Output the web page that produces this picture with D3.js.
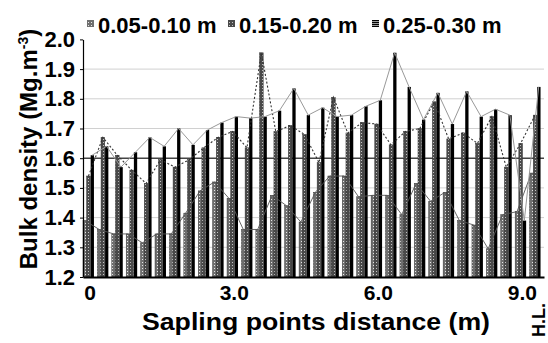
<!DOCTYPE html>
<html>
<head>
<meta charset="utf-8">
<script src="https://cdn.jsdelivr.net/npm/d3@7"></script>
<style>
  body { margin: 0; background: #fff; }
  svg { display: block; font-family: 'Liberation Sans', Arial, sans-serif; font-weight: bold; }
</style>
</head>
<body>
<script>
// sampling points (m) along the transect, last one is the hedge line
const distances = ['0', '0.3', '0.6', '0.9', '1.2', '1.5', '1.8', '2.1', '2.4', '2.7',
  '3.0', '3.3', '3.6', '3.9', '4.2', '4.5', '4.8', '5.1', '5.4', '5.7',
  '6.0', '6.3', '6.6', '6.9', '7.2', '7.5', '7.8', '8.1', '8.4', '8.7', '9.0', 'H.L.'];

const layers = ['0.05-0.10 m', '0.15-0.20 m', '0.25-0.30 m'];

// bulk density, Mg.m-3
const depth1 = [1.39, 1.36, 1.345, 1.345, 1.315, 1.345, 1.345, 1.415, 1.49, 1.52,
  1.465, 1.36, 1.36, 1.475, 1.44, 1.385, 1.485, 1.54, 1.54, 1.47,
  1.475, 1.475, 1.41, 1.515, 1.455, 1.485, 1.39, 1.375, 1.295, 1.41, 1.42, 1.55];
const depth2 = [1.54, 1.67, 1.61, 1.56, 1.515, 1.595, 1.57, 1.595, 1.635, 1.67,
  1.69, 1.635, 1.955, 1.69, 1.71, 1.68, 1.585, 1.805, 1.685, 1.72,
  1.715, 1.645, 1.69, 1.70, 1.79, 1.665, 1.685, 1.65, 1.74, 1.57, 1.65, 1.745];
const depth3 = [1.61, 1.64, 1.57, 1.62, 1.67, 1.64, 1.70, 1.645, 1.695, 1.72,
  1.74, 1.735, 1.74, 1.76, 1.835, 1.745, 1.77, 1.74, 1.745, 1.775,
  1.795, 1.955, 1.84, 1.73, 1.82, 1.715, 1.825, 1.74, 1.765, 1.745, 1.39, 1.84];

const yTicks = [1.2, 1.3, 1.4, 1.5, 1.6, 1.7, 1.8, 1.9, 2.0];
const xTicks = ['0', '3.0', '6.0', '9.0'];

const series = [depth1, depth2, depth3];

const width = 548, height = 343;
const plotL = 83, plotR = 544, plotT = 39.4, plotB = 277;

const svg = d3.select('body').append('svg')
  .attr('width', width)
  .attr('height', height);

// fill patterns for the bars
const defs = svg.append('defs');
function dots(id, bg, dot) {
  const p = defs.append('pattern')
    .attr('id', id)
    .attr('patternUnits', 'userSpaceOnUse')
    .attr('width', 3).attr('height', 3);
  p.append('rect').attr('width', 3).attr('height', 3).attr('fill', bg);
  p.append('rect').attr('x', 1).attr('y', 1).attr('width', 1).attr('height', 1).attr('fill', dot);
}
dots('pat1', '#6f6f6f', '#e6e6e6');
dots('pat2', '#4a4a4a', '#c4c4c4');
const stripes = defs.append('pattern')
  .attr('id', 'pat3')
  .attr('patternUnits', 'userSpaceOnUse')
  .attr('width', 4).attr('height', 2);
stripes.append('rect').attr('width', 4).attr('height', 2).attr('fill', '#000');
stripes.append('rect').attr('y', 1.4).attr('width', 4).attr('height', 0.6).attr('fill', '#fff');

const fills = ['url(#pat1)', 'url(#pat2)', '#000'];

const x0 = d3.scaleBand()
  .domain(distances)
  .range([plotL, plotR]);

const x1 = d3.scaleBand()
  .domain(layers)
  .range([0, x0.bandwidth() * 0.76]);

const y = d3.scaleLinear()
  .domain([1.2, 2.0])
  .range([plotB, plotT]);

// grid
svg.append('g')
  .selectAll('line')
  .data(yTicks.filter(function(d) { return d > 1.2 && d < 2.0; }))
  .join('line')
  .attr('x1', plotL).attr('x2', plotR)
  .attr('y1', function(d) { return y(d); })
  .attr('y2', function(d) { return y(d); })
  .attr('stroke', function(d) { return d === 1.6 ? '#444' : '#d0d0d0'; })
  .attr('stroke-width', function(d) { return d === 1.6 ? 1.4 : 1; });

// bars
const barW = function(k) { return k === 2 ? x1.bandwidth() * 0.9 : x1.bandwidth(); };
const barOff = function(k) { return k === 2 ? x1.bandwidth() * 0.1 : 0; };

series.forEach(function(vals, k) {
  svg.append('g')
    .selectAll('rect')
    .data(vals)
    .join('rect')
    .attr('x', function(d, i) { return x0(distances[i]) + x1(layers[k]) + barOff(k); })
    .attr('y', function(d) { return y(d); })
    .attr('width', barW(k))
    .attr('height', function(d) { return y(1.2) - y(d); })
    .attr('fill', fills[k])
    .attr('stroke', k === 2 ? 'none' : '#333')
    .attr('stroke-width', 0.5);
});

// lines joining the bar tops
const lineStyles = [
  {stroke: '#555', dash: null, w: 0.9},
  {stroke: '#333', dash: '2,2', w: 1.1},
  {stroke: '#999', dash: null, w: 1}
];
series.forEach(function(vals, k) {
  const line = d3.line()
    .x(function(d, i) { return x0(distances[i]) + x1(layers[k]) + x1.bandwidth() / 2; })
    .y(function(d) { return y(d); });
  svg.append('path')
    .datum(vals)
    .attr('d', line)
    .attr('fill', 'none')
    .attr('stroke', lineStyles[k].stroke)
    .attr('stroke-width', lineStyles[k].w)
    .attr('stroke-dasharray', lineStyles[k].dash);
});

// axes
const yAxis = d3.axisLeft(y)
  .tickValues(yTicks)
  .tickFormat(d3.format('.1f'))
  .tickSize(3)
  .tickSizeOuter(0)
  .tickPadding(5);

svg.append('g')
  .attr('transform', 'translate(' + plotL + ',0)')
  .call(yAxis)
  .call(function(g) {
    g.select('.domain').attr('stroke', '#000').attr('stroke-width', 1.2);
    g.selectAll('text').attr('font-size', 22).attr('font-family', null).attr('fill', '#000');
  });

const xAxis = d3.axisBottom(x0)
  .tickValues(xTicks)
  .tickSize(0)
  .tickPadding(8);

svg.append('g')
  .attr('transform', 'translate(0,' + plotB + ')')
  .call(xAxis)
  .call(function(g) {
    g.select('.domain').attr('stroke', '#000').attr('stroke-width', 2);
    g.selectAll('text').attr('font-size', 21).attr('font-family', null).attr('fill', '#000');
  });

// hedge line label, written vertically
const hl = distances[distances.length - 1];
svg.append('text')
  .attr('transform', 'translate(' + (x0(hl) + x0.bandwidth() / 2 + 8) + ',320) rotate(-90)')
  .attr('text-anchor', 'middle')
  .attr('font-size', 18)
  .text(hl);

// axis titles
svg.append('text')
  .attr('x', 316)
  .attr('y', 330)
  .attr('text-anchor', 'middle')
  .attr('font-size', 24)
  .attr('textLength', 348)
  .attr('lengthAdjust', 'spacingAndGlyphs')
  .text('Sapling points distance (m)');

const yl = svg.append('text')
  .attr('transform', 'translate(37,149) rotate(-90)')
  .attr('text-anchor', 'middle')
  .attr('font-size', 24);
yl.append('tspan').text('Bulk density (Mg.m');
yl.append('tspan').attr('font-size', 14).attr('dy', -9).text('-3');
yl.append('tspan').attr('dy', 9).text(')');

// legend
const legendX = [87, 228, 372];
const legend = svg.append('g')
  .selectAll('g')
  .data(layers)
  .join('g')
  .attr('transform', function(d, i) { return 'translate(' + legendX[i] + ',0)'; });
legend.append('rect')
  .attr('y', 20)
  .attr('width', 7)
  .attr('height', 7)
  .attr('fill', function(d, i) { return i === 2 ? 'url(#pat3)' : fills[i]; });
legend.append('text')
  .attr('x', 11)
  .attr('y', 33)
  .attr('font-size', 22)
  .text(function(d) { return d; });
</script>
</body>
</html>
